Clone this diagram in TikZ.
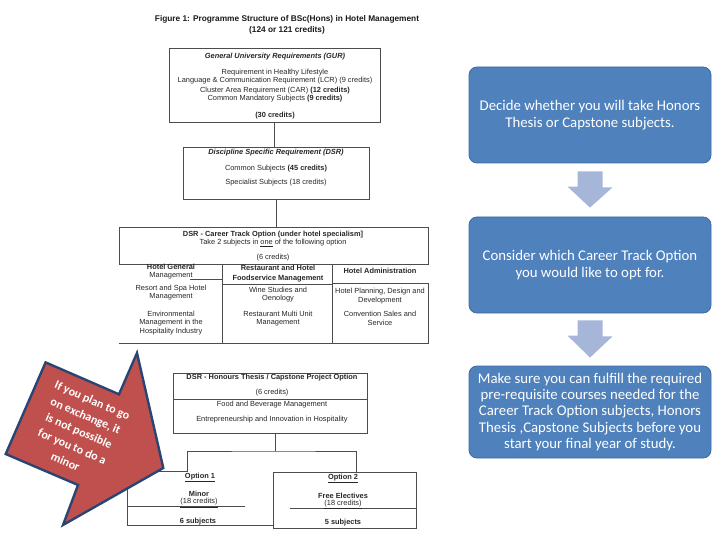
\documentclass[tikz,border=0pt]{standalone}
\usepackage{fontspec}
\setmainfont{Liberation Sans}
\newfontfamily\calib{Carlito}
\usetikzlibrary{calc}
\definecolor{bluefill}{HTML}{4F81BD}
\definecolor{blueline}{HTML}{3F6A9C}
\definecolor{arrowc}{HTML}{A6B6D8}
\definecolor{redfill}{HTML}{C0504D}
\definecolor{navy}{HTML}{2A4574}
\begin{document}
\begin{tikzpicture}[x=1pt,y=-1pt,
  ln/.style={draw=black!70, line width=0.7pt},
  box/.style={ln, rectangle, inner sep=0pt, outer sep=0pt},
  tx/.style={inner sep=0pt, align=center, text=black!85, font=\fontsize{7.4}{8.4}\selectfont},
  bt/.style={tx, font=\fontsize{7.4}{8.4}\selectfont\bfseries},
  it/.style={tx, font=\fontsize{7.4}{8.4}\selectfont\bfseries\itshape},
  ttl/.style={tx, text=black!90, font=\fontsize{8.3}{10}\selectfont\bfseries},
  bluebox/.style={rectangle, rounded corners=8pt, fill=bluefill, draw=blueline, line width=0.8pt, text=white, align=center, inner sep=0pt, minimum width=242pt, font=\calib\fontsize{14.8}{16.3}\selectfont},
  blockarrow/.style={fill=arrowc},
  warnarrow/.style={fill=redfill, draw=navy, line width=2.4pt, line join=miter},
  warntext/.style={text=white, align=center, inner sep=0pt, font=\calib\bfseries\fontsize{12}{16.8}\selectfont}
]
\useasboundingbox (0,0) rectangle (720,540);

% title
\node[ttl] (title) at (287,19) {Figure 1: Programme Structure of BSc(Hons) in Hotel Management};
\node[ttl] (title2) at (287,30) {(124 or 121 credits)};

% GUR
\node[box, minimum width=211pt, minimum height=74pt] (gur) at (274.5,85) {};
\node[it] (gur1) at (275,56.7) {General University Requirements (GUR)};
\node[tx] (gur2) at (275,72.8) {Requirement in Healthy Lifestyle};
\node[tx] (gur3) at (275,81) {Language \& Communication Requirement (LCR) (9 credits)};
\node[tx] (gur4) at (275,90.2) {Cluster Area Requirement (CAR) \textbf{(12 credits)}};
\node[tx] (gur5) at (275,98.9) {Common Mandatory Subjects \textbf{(9 credits)}};
\node[bt] (gur6) at (275,115.5) {(30 credits)};

% DSR
\node[box, minimum width=186pt, minimum height=52pt] (dsr) at (276,173) {};
\node[it] (dsr1) at (276,153) {Discipline Specific Requirement (DSR)};
\node[tx] (dsr2) at (276,169) {Common Subjects \textbf{(45 credits)}};
\node[tx] (dsr3) at (276,183) {Specialist Subjects (18 credits)};

% Career track
\node[box, minimum width=309pt, minimum height=37pt] (cth) at (273.5,245.5) {};
\node[bt] (ct1) at (273,235) {DSR - Career Track Option (under hotel specialism]};
\node[tx] (ct2) at (273,243) {Take 2 subjects in \underline{one} of the following option};
\node[tx] (ct3) at (273,258) {(6 credits)};
\node[rectangle, minimum width=309pt, minimum height=79pt, inner sep=0pt] (ctb) at (273.5,303.5) {};
\draw[ln] (ctb.south west) -- (ctb.south east) -- ($(ctb.north east)+(0,20)$) -- ($(ctb.north west)+(214,20)$);
\draw[ln] ($(ctb.north west)+(104,0)$) -- ($(ctb.south west)+(104,0)$);
\draw[ln] ($(ctb.north west)+(214,0)$) -- ($(ctb.south west)+(214,0)$);
\draw[ln] ($(ctb.north west)+(71,15.5)$) -- ($(ctb.north west)+(104,15.5)$);
\draw[ln] ($(ctb.north west)+(104,20.5)$) -- ($(ctb.north west)+(214,20.5)$);

\node[bt] (c1h) at (171,271.3) {Hotel General\\\mdseries Management};
\node[bt] (c2h1) at (278,268.3) {Restaurant and Hotel};
\node[bt] (c2h2) at (278,279) {Foodservice Management};
\node[bt] (c3h) at (380,271) {Hotel Administration};
\node[tx] (c1a) at (171,292.5) {Resort and Spa Hotel\\Management};
\node[tx] (c1b) at (171,323) {Environmental\\Management in the\\Hospitality Industry};
\node[tx] (c2a) at (278,294.5) {Wine Studies and\\Oenology};
\node[tx] (c2b) at (278,318.5) {Restaurant Multi Unit\\Management};
\node[tx] (c3a) at (380,296) {Hotel Planning, Design and\\Development};
\node[tx] (c3b) at (380,318.5) {Convention Sales and\\Service};

% Honours
\node[box, minimum width=194pt, minimum height=60pt] (hon) at (270,403) {};
\draw[ln] ($(hon.west)+(0,-4)$) -- ($(hon.east)+(0,-4)$);
\node[bt] (h1) at (272,378) {DSR - Honours Thesis / Capstone Project Option};
\node[tx] (h2) at (272,392.5) {(6 credits)};
\node[tx] (h3) at (272,405) {Food and Beverage Management};
\node[tx] (h4) at (272,419.5) {Entrepreneurship and Innovation in Hospitality};

% fork
\draw[ln] ($(hon.south)+(5,0)$) -- ($(hon.south)+(5,18)$) coordinate (fk);

% Options
\node[rectangle, inner sep=0pt, minimum width=145pt, minimum height=53pt] (op1) at (200.5,498.5) {};
\node[box, minimum width=143pt, minimum height=56pt] (op2) at (344.5,500) {};
\coordinate (f1) at ($(op1.north)+(-13.5,0)$);
\coordinate (f2) at ($(op2.north)+(11.5,0)$);
\draw[ln] (f1) -- (op1.north west) -- (op1.south west) -- (op1.south east);
\draw[ln] ($(op1.north west)+(0,35)$) -- ($(op1.north west)+(117,35)$);
\draw[ln] ($(op2.north west)+(17,36)$) -- ($(op2.north east)+(0,36)$);
\node[bt] (o1a) at (200,477.5) {\underline{Option 1}};
\node[bt] (o1b) at (199,494) {Minor};
\node[tx] (o1c) at (199,503) {\underline{(18 credits)}};
\node[bt] (o1d) at (198,521.5) {6 subjects};
\node[bt] (o2a) at (343,478.5) {\underline{Option 2}};
\node[bt] (o2b) at (343,496) {Free Electives};
\node[tx] (o2c) at (343,504.5) {\underline{(18 credits)}};
\node[bt] (o2d) at (343,523) {5 subjects};

% connectors
\draw[ln] (gur.south) -- (gur.south |- dsr.north);
\draw[ln] (dsr.south) -- (dsr.south |- cth.north);
\draw[ln] ($(ctb.south)+(1.5,0)$) -- ($(ctb.south)+(1.5,0)$ |- hon.north);
\draw[ln] (f1) |- (fk) -| (f2);

% red warning arrow
\path[warnarrow] (137,353) -- (163.3,468) -- (63,525) -- (78,485) -- (5.7,454) -- (45.6,362.4) -- (119,394.3) -- cycle;
\node[warntext, rotate=-23.5] (warn) at (79,431) {If you plan to go\\on exchange, it\\is not possible\\for you to do a\\minor};

% right panel
\node[bluebox, minimum height=96pt] (b1) at (590,115) {Decide whether you will take Honors\\Thesis or Capstone subjects.};
\node[bluebox, minimum height=96pt] (b2) at (590,265) {Consider which Career Track Option\\you would like to opt for.};
\node[bluebox, minimum height=92pt] (b3) at (590,412) {Make sure you can fulfill the required\\pre-requisite courses needed for the\\Career Track Option subjects, Honors\\Thesis ,Capstone Subjects before you\\start your final year of study.};

\path (b1.south) ++(0,8) coordinate (a1s);
\path (b2.north) ++(0,-9) coordinate (a1e);
\fill[blockarrow] (a1s) ++(-12.5,0) -- ++(25,0) -- ++(0,16) -- ++(10,0) -- (a1e) -- ++(-22.5,-21) -- ++(10,0) -- cycle;
\path (b2.south) ++(0,7) coordinate (a2s);
\path (b3.north) ++(0,-8) coordinate (a2e);
\fill[blockarrow] (a2s) ++(-12.5,0) -- ++(25,0) -- ++(0,16) -- ++(10,0) -- (a2e) -- ++(-22.5,-22) -- ++(10,0) -- cycle;
\end{tikzpicture}
\end{document}
